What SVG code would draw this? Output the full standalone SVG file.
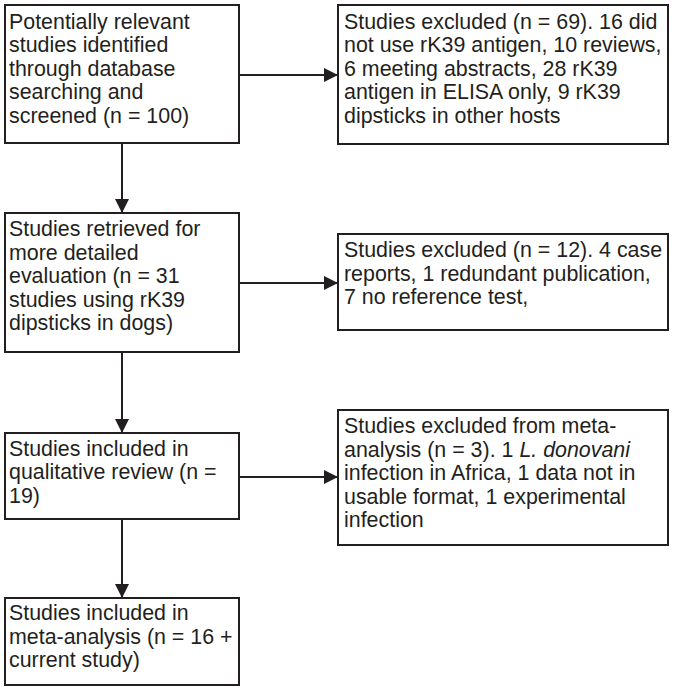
<svg xmlns="http://www.w3.org/2000/svg" width="674" height="691" viewBox="0 0 674 691">
<defs>
<marker id="ah" viewBox="0 0 14 14" refX="14" refY="7" markerWidth="14" markerHeight="14" markerUnits="userSpaceOnUse" orient="auto">
<path d="M0,0 L14,7 L0,14 Z" fill="#231f20"/>
</marker>
</defs>
<style>
rect{fill:#fff;stroke:#231f20;stroke-width:2}
text{font-family:"Liberation Sans",Arial,sans-serif;font-size:21.4px;fill:#231f20}
.c line{stroke:#231f20;stroke-width:2;marker-end:url(#ah)}
</style>
<rect x="0" y="0" width="674" height="691" style="stroke:none"/>
<g class="c" id="connectors">
<line x1="239" y1="75" x2="338" y2="75"/>
<line x1="122" y1="143" x2="122" y2="213"/>
<line x1="239" y1="283" x2="338" y2="283"/>
<line x1="122" y1="352" x2="122" y2="433"/>
<line x1="239" y1="477" x2="338" y2="477"/>
<line x1="122" y1="519" x2="122" y2="598"/>
</g>
<g id="n1">
<rect x="5" y="5" width="234" height="138"/>
<text x="9" y="28.5">Potentially relevant</text>
<text x="9" y="52">studies identified</text>
<text x="9" y="75.5">through database</text>
<text x="9" y="99">searching and</text>
<text x="9" y="122.5">screened (n = 100)</text>
</g>
<g id="n2">
<rect x="338" y="5" width="330" height="139"/>
<text x="344" y="28.5">Studies excluded (n = 69). 16 did</text>
<text x="344" y="52">not use rK39 antigen, 10 reviews,</text>
<text x="344" y="75.5">6 meeting abstracts, 28 rK39</text>
<text x="344" y="99">antigen in ELISA only, 9 rK39</text>
<text x="344" y="122.5">dipsticks in other hosts</text>
</g>
<g id="n3">
<rect x="5" y="213" width="234" height="139"/>
<text x="9" y="236">Studies retrieved for</text>
<text x="9" y="259.5">more detailed</text>
<text x="9" y="283">evaluation (n = 31</text>
<text x="9" y="306.5">studies using rK39</text>
<text x="9" y="330">dipsticks in dogs)</text>
</g>
<g id="n4">
<rect x="338" y="234" width="330" height="96"/>
<text x="344" y="257">Studies excluded (n = 12). 4 case</text>
<text x="344" y="280.5">reports, 1 redundant publication,</text>
<text x="344" y="304">7 no reference test,</text>
</g>
<g id="n5">
<rect x="5" y="433" width="234" height="86"/>
<text x="9" y="455.5">Studies included in</text>
<text x="9" y="479">qualitative review (n =</text>
<text x="9" y="502.5">19)</text>
</g>
<g id="n6">
<rect x="338" y="410" width="330" height="135"/>
<text x="344" y="433">Studies excluded from meta-</text>
<text x="344" y="456.5">analysis (n = 3). 1 <tspan font-style="italic">L. donovani</tspan></text>
<text x="344" y="480">infection in Africa, 1 data not in</text>
<text x="344" y="503.5">usable format, 1 experimental</text>
<text x="344" y="527">infection</text>
</g>
<g id="n7">
<rect x="5" y="598" width="234" height="87"/>
<text x="9" y="620">Studies included in</text>
<text x="9" y="643.5">meta-analysis (n = 16 +</text>
<text x="9" y="667">current study)</text>
</g>
</svg>
